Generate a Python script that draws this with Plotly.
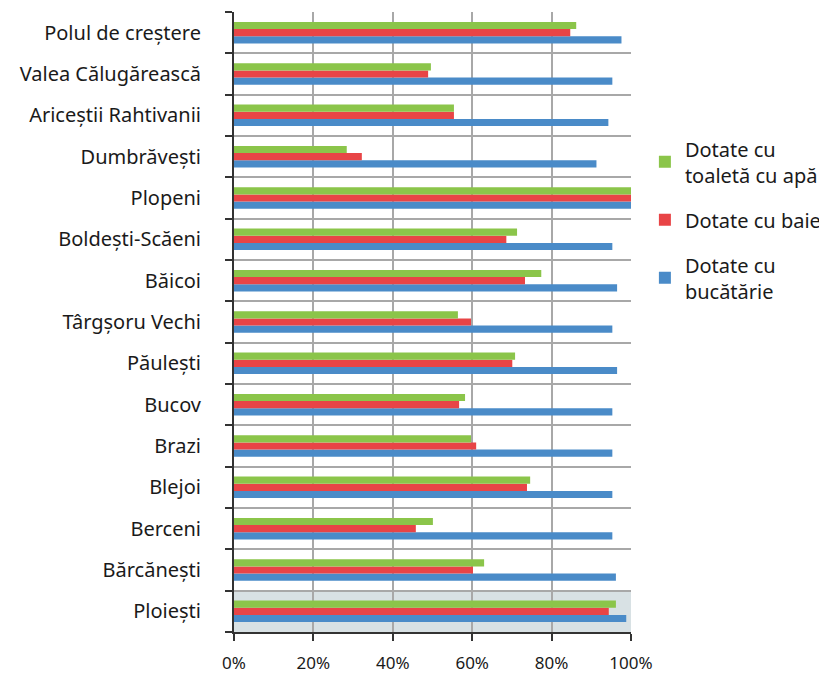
import plotly.graph_objects as go

categories = ["Polul de creștere", "Valea Călugărească", "Ariceștii Rahtivanii", "Dumbrăvești",
              "Plopeni", "Boldești-Scăeni", "Băicoi", "Târgșoru Vechi", "Păulești", "Bucov",
              "Brazi", "Blejoi", "Berceni", "Bărcănești", "Ploiești"]
toaleta = [0.862, 0.496, 0.554, 0.284, 1.0, 0.713, 0.774, 0.564, 0.708, 0.582,
           0.597, 0.746, 0.501, 0.630, 0.962]
baie = [0.847, 0.489, 0.554, 0.322, 1.0, 0.686, 0.733, 0.597, 0.701, 0.567,
        0.610, 0.738, 0.458, 0.602, 0.944]
bucatarie = [0.976, 0.953, 0.943, 0.913, 1.0, 0.953, 0.965, 0.953, 0.965, 0.953,
             0.953, 0.953, 0.953, 0.962, 0.988]
series_names = ["Dotate cu<br>toaletă cu apă", "Dotate cu baie", "Dotate cu<br>bucătărie"]
colors = ["#8bc54a", "#e84446", "#4a8bc8"]

FONT = "Noto Sans"
fig = go.Figure()
for i, (name, vals, col, rank) in enumerate([(series_names[2], bucatarie, colors[2], 3),
                                             (series_names[1], baie, colors[1], 2),
                                             (series_names[0], toaleta, colors[0], 1)]):
    fig.add_trace(go.Bar(y=categories, x=vals, name=name, orientation="h",
                         legendgroup="g%d" % i, legendrank=rank,
                         marker=dict(color=col, line=dict(width=0))))

fig.add_shape(type="rect", xref="x domain", yref="y", x0=0, x1=1,
              y0=-0.5, y1=0.5, fillcolor="#d8e1e4", line=dict(width=0), layer="below")

fig.update_layout(
    width=819, height=667,
    margin=dict(l=226, r=196, t=4, b=43, autoexpand=False),
    barmode="group", bargap=0.48, bargroupgap=0,
    plot_bgcolor="white", paper_bgcolor="white",
    font=dict(family=FONT, size=20, color="#1a1a1a"),
    legend=dict(traceorder="grouped", x=1.035, xanchor="left", y=0.665, yanchor="middle",
                font=dict(size=20), itemsizing="constant", tracegroupgap=16,
                bgcolor="rgba(0,0,0,0)"),
    showlegend=True,
)
fig.update_xaxes(range=[0, 1.0], tickformat=".0%", dtick=0.2, automargin=False,
                 tickfont=dict(size=17),
                 showgrid=True, gridcolor="#a8a8a8", gridwidth=1.5,
                 showline=True, linecolor="#333333", linewidth=2,
                 ticks="outside", ticklen=7, tickcolor="#333333", tickwidth=2,
                 ticklabelstandoff=8, zeroline=False)
fig.update_yaxes(categoryorder="array", categoryarray=categories[::-1], automargin=False,
                 tickfont=dict(size=20),
                 tickson="boundaries", showgrid=True, gridcolor="#a8a8a8", gridwidth=1.5,
                 showline=True, linecolor="#333333", linewidth=2,
                 ticks="outside", ticklen=7, tickcolor="#333333", tickwidth=2,
                 ticklabelstandoff=27)
fig.write_html("out.html")
